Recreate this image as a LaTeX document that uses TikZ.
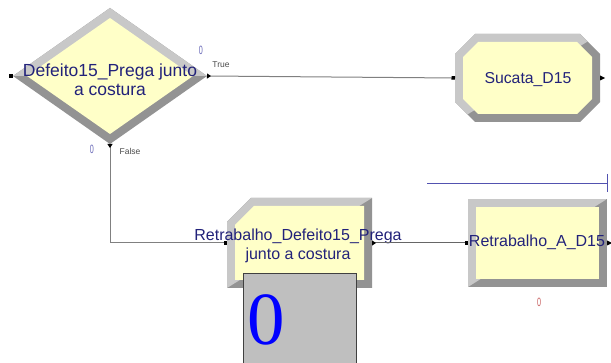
\documentclass[tikz,border=0pt]{standalone}
\usepackage{fontspec}
\setmainfont{Liberation Sans}
\newfontfamily\counterfont{Liberation Serif}
\usetikzlibrary{shapes.geometric,arrows.meta,positioning}

\definecolor{modfill}{HTML}{FFFFC8}
\definecolor{bevlight}{HTML}{C8C8C8}
\definecolor{bevdark}{HTML}{939393}
\definecolor{modtext}{HTML}{22227A}
\definecolor{countblue}{HTML}{6A6AB8}
\definecolor{countred}{HTML}{C86060}
\definecolor{markblue}{HTML}{5252B0}

\newcommand{\narrow}[1]{\scalebox{0.6}[1]{#1}}

\tikzstyle{hold} = [rectangle, inner sep=0pt, outer sep=0pt]
\tikzstyle{modlabel} = [align=center, text=modtext, inner sep=0pt,
font=\fontsize{16}{18.5}\selectfont]
\tikzstyle{counter} = [rectangle, draw=black!75, fill=gray!50, line width=0.8pt,
minimum width=113pt, minimum height=100pt]
\tikzstyle{bigzero} = [text=blue, inner sep=0pt, font=\counterfont\fontsize{75}{75}\selectfont]
\tikzstyle{count} = [inner sep=0pt, font=\fontsize{12}{12}\selectfont]
\tikzstyle{branch} = [inner sep=0pt, text=black!70, font=\fontsize{8.5}{8.5}\selectfont]
\tikzstyle{inport} = [rectangle, fill=black, minimum size=4pt, inner sep=0pt]
\tikzstyle{outport} = [isosceles triangle, fill=black, minimum width=5pt,
minimum height=5pt, inner sep=0pt, isosceles triangle stretches]
\tikzstyle{conn} = [draw=gray, line width=1pt,
{Triangle[reversed,length=4pt,width=5pt,black]}-{Square[length=3.5pt,width=3.5pt,black]}]

\begin{document}
\begin{tikzpicture}[x=1pt, y=-1pt]
	\clip (0,0) rectangle (611,363);
	\fill[white] (0,0) rectangle (611,363);

	%nodes for Decide
	\node[hold, diamond, minimum width=194pt, minimum height=136pt](decide) at (110,76){};
	\fill[bevdark] (13,76) -- (110,8) -- (207,76) -- (110,144) -- cycle;
	\begin{scope}
		\clip (0,0) rectangle (611,76);
		\fill[bevlight] (13,76) -- (110,8) -- (207,76) -- (110,144) -- cycle;
	\end{scope}
	\fill[modfill] (27,76) -- (110,18) -- (193,76) -- (110,134) -- cycle;
	\node[modlabel, font=\fontsize{17.5}{19}\selectfont](decideText) at (110,80){Defeito15\_Prega junto \\ a costura};
	\node[inport, left=0pt of decide.west](decideIn){};
	\node[count, text=countblue](decideCount) at (201,50){\narrow{0}};
	\node[branch](trueText) at (221,65){True};
	\node[count, text=countblue](falseCount) at (92,149){\narrow{0}};
	\node[branch](falseText) at (130,151){False};

	%nodes for Sucata
	\node[hold, minimum width=145pt, minimum height=88pt](sucata) at (527.5,78){};
	\fill[bevdark] (475,34) -- (580,34) -- (600,54) -- (600,102) -- (580,122) -- (475,122) -- (455,102) -- (455,54) -- cycle;
	\begin{scope}
		\clip (sucata.south west) -- (sucata.north east) -- ([shift={(-40,-40)}]sucata.north west) -- cycle;
		\fill[bevlight] (475,34) -- (580,34) -- (600,54) -- (600,102) -- (580,122) -- (475,122) -- (455,102) -- (455,54) -- cycle;
	\end{scope}
	\fill[modfill] (478,42) -- (577,42) -- (592,57) -- (592,99) -- (577,114) -- (478,114) -- (463,99) -- (463,57) -- cycle;
	\node[modlabel, font=\fontsize{15.8}{18}\selectfont](sucataText) at (528,80){Sucata\_D15};
	\node[outport, right=0pt of sucata.east](sucataOut){};

	%nodes for Retrabalho
	\node[hold, minimum width=145pt, minimum height=90pt](rework) at (299.5,243){};
	\fill[bevdark] (251,198) -- (372,198) -- (372,288) -- (227,288) -- (227,222) -- cycle;
	\begin{scope}
		\clip (rework.south west) -- (rework.north east) -- ([shift={(-40,-40)}]rework.north west) -- cycle;
		\fill[bevlight] (251,198) -- (372,198) -- (372,288) -- (227,288) -- (227,222) -- cycle;
	\end{scope}
	\fill[modfill] (254,206) -- (364,206) -- (364,280) -- (235,280) -- (235,225) -- cycle;
	\node[modlabel](reworkText) at (298,246){Retrabalho\_Defeito15\_Prega \\ junto a costura};
	\node[counter, below=-15pt of rework](counter){};
	\node[bigzero, anchor=west](counterValue) at ([xshift=5pt,yshift=3pt]counter.west){0};

	\node[hold, minimum width=139pt, minimum height=88pt](fix) at (537.5,243){};
	\fill[bevdark] (fix.south west) rectangle (fix.north east);
	\begin{scope}
		\clip (fix.south west) -- (fix.north east) -- ([shift={(-40,-40)}]fix.north west) -- cycle;
		\fill[bevlight] (fix.south west) rectangle (fix.north east);
	\end{scope}
	\fill[modfill] (476,207) rectangle (599,279);
	\node[modlabel](fixText) at (537,242){Retrabalho\_A\_D15};
	\node[outport, right=0pt of fix.east](fixOut){};
	\node[count, text=countred](fixCount) at (539,302){\narrow{0}};

	%marker line
	\coordinate (markStart) at (427,183);
	\coordinate (markEnd) at (607,183);
	\draw[markblue, line width=0.8pt] (markStart) -- (markEnd);
	\draw[markblue, line width=0.8pt] ([yshift=9pt]markEnd) -- ([yshift=-9pt]markEnd);

	%edges
	\path[conn] (decide.east) -- (sucata.west);
	\path[conn] (decide.south) |- (rework.west);
	\path[conn, draw=black!60] (rework.east) -- (fix.west);
\end{tikzpicture}
\end{document}
